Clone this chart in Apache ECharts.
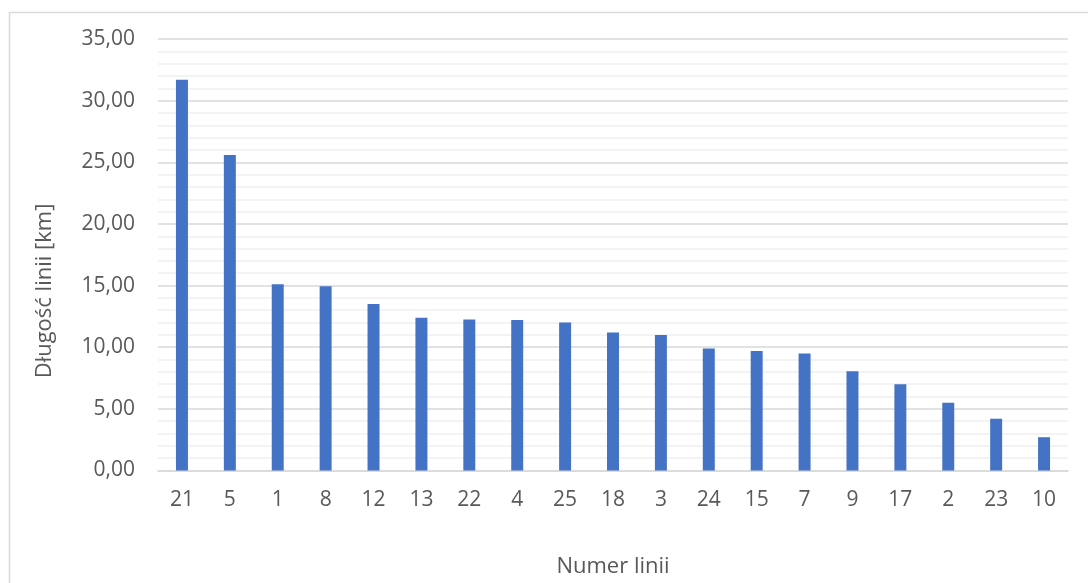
<!DOCTYPE html>
<html>
<head>
<meta charset="utf-8">
<style>
html,body{margin:0;padding:0;background:#fff;}
#chart{width:1088px;height:583px;}
</style>
<script src="https://cdn.jsdelivr.net/npm/echarts@6/dist/echarts.min.js"></script>
</head>
<body>
<div id="chart"></div>
<script>
const categories = ['21','5','1','8','12','13','22','4','25','18','3','24','15','7','9','17','2','23','10'];
const lengths = [31.7,25.6,15.1,14.95,13.5,12.4,12.25,12.2,12.0,11.2,11.0,9.9,9.7,9.5,8.05,7.0,5.5,4.2,2.7];
const yTicks = {min:0, max:35, interval:5};
const xTitle = 'Numer linii';
const yTitle = 'Długość linii [km]';

const font = '"Open Sans", "Liberation Sans", sans-serif';
const textColor = '#595959';
const chart = echarts.init(document.getElementById('chart'));
chart.setOption({
  animation:false,
  backgroundColor:'#fff',
  graphic:[{
    type:'rect', left:7, top:10, silent:true,
    shape:{width:1200, height:700},
    style:{fill:'none', stroke:'#d9d9d9', lineWidth:1.5}
  },{
    type:'text', x:45, y:291, rotation:Math.PI/2,
    style:{text:yTitle, font:'22px '+font, fill:textColor, textAlign:'center', textVerticalAlign:'middle'}
  },{
    type:'text', x:613, y:567,
    style:{text:xTitle, font:'22px '+font, fill:textColor, textAlign:'center', textVerticalAlign:'middle'}
  }],
  grid:{left:158, right:20, top:39, bottom:112.5, outerBoundsMode:'none', containLabel:false},
  xAxis:{
    type:'category', data:categories,
    axisLine:{show:true, lineStyle:{color:'#d9d9d9', width:1.5}},
    axisTick:{show:false},
    axisLabel:{color:textColor, fontSize:21, fontFamily:font, margin:19}
  },
  yAxis:{
    type:'value', min:yTicks.min, max:yTicks.max, interval:yTicks.interval,
    axisLine:{show:false}, axisTick:{show:false},
    axisLabel:{color:textColor, fontSize:21, fontFamily:font, margin:23,
      formatter:v=>v.toFixed(2).replace('.',',')},
    splitLine:{lineStyle:{color:'#d9d9d9', width:1.5}},
    minorTick:{show:false, splitNumber:5},
    minorSplitLine:{show:true, lineStyle:{color:'#f0f0f0', width:1.5}}
  },
  series:[{
    type:'bar', data:lengths, barWidth:'25%',
    itemStyle:{color:'#4472c4'}
  }]
});
</script>
</body>
</html>
